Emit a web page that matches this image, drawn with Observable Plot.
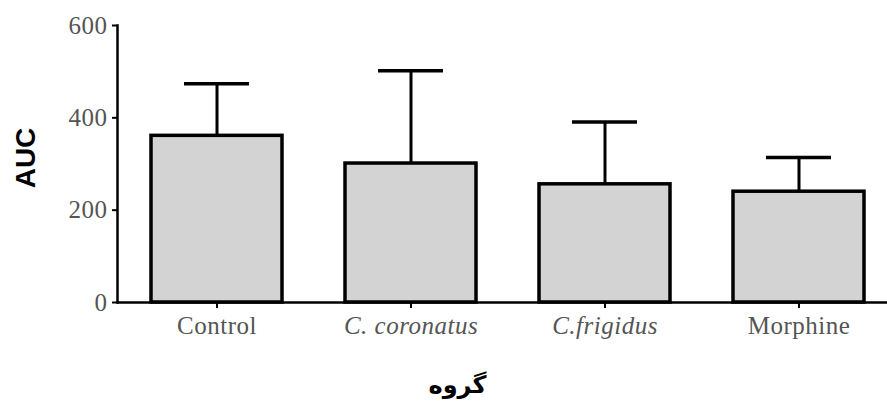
<!DOCTYPE html>
<html>
<head>
<meta charset="utf-8">
<script src="https://cdn.jsdelivr.net/npm/d3@7"></script>
<script src="https://cdn.jsdelivr.net/npm/@observablehq/plot@0.6"></script>
<style>
  html, body { margin: 0; padding: 0; background: #fff; }
</style>
</head>
<body>
<div id="chart"></div>
<script>
const groups = ["Control", "C. coronatus", "C.frigidus", "Morphine"];
const italicGroups = ["C. coronatus", "C.frigidus"];
const means = [361, 301, 256, 240];
const sds = [113, 201, 135, 74];
const yTicks = [0, 200, 400, 600];
const yLabel = "AUC";
const xLabel = "گروه";

const data = groups.map((g, i) => ({group: g, mean: means[i], upper: means[i] + sds[i]}));

const serif = "'Liberation Serif', 'Times New Roman', serif";

const plot = Plot.plot({
  width: 887,
  height: 408,
  marginLeft: 117,
  marginRight: 0,
  marginTop: 25,
  marginBottom: 106,
  style: {fontFamily: serif, fontSize: "25px", color: "#000", background: "#fff"},
  x: {domain: groups, paddingInner: 0.325, paddingOuter: 0.147, align: 0.59, label: null},
  y: {domain: [0, 600], label: null},
  marks: [
    Plot.ruleY([0], {stroke: "#000", strokeWidth: 2.5}),
    Plot.frame({anchor: "left", stroke: "#000", strokeWidth: 2.5}),
    Plot.ruleX(data, {x: "group", y1: "mean", y2: "upper", stroke: "#000", strokeWidth: 3}),
    Plot.tickY(data, {x: "group", y: "upper", stroke: "#000", strokeWidth: 3.5, insetLeft: 33, insetRight: 33}),
    Plot.barY(data, {x: "group", y: "mean", fill: "#d3d3d3", stroke: "#000", strokeWidth: 3.5}),
    Plot.axisY({ticks: yTicks, tickSize: 5, tickPadding: 5, stroke: "#000", strokeWidth: 2, fill: "#555", label: null, fontSize: 25}),
    Plot.axisX({tickSize: 6, tickPadding: 8, stroke: "#000", strokeWidth: 2, fill: "#555", label: null, fontSize: 25}),
    Plot.text([yLabel], {frameAnchor: "left", textAnchor: "middle", dx: -91, dy: -6, rotate: -90, fontFamily: "'Liberation Sans', Arial, sans-serif", fontWeight: "bold", fontSize: 28, fill: "#000"}),
    Plot.text([xLabel], {frameAnchor: "bottom", dx: -45, dy: 90, fontFamily: "'DejaVu Sans', sans-serif", fontWeight: "bold", fontSize: 24, fill: "#000"})
  ]
});

d3.select(plot).selectAll("[aria-label='x-axis tick label'] text").each(function() {
  const t = d3.select(this).text();
  if (italicGroups.includes(t)) d3.select(this).attr("font-style", "italic");
});
d3.select(plot).selectAll("[aria-label='x-axis tick label'] text, [aria-label='y-axis tick label'] text").attr("letter-spacing", "0.5px");

document.getElementById("chart").appendChild(plot);
</script>
</body>
</html>
